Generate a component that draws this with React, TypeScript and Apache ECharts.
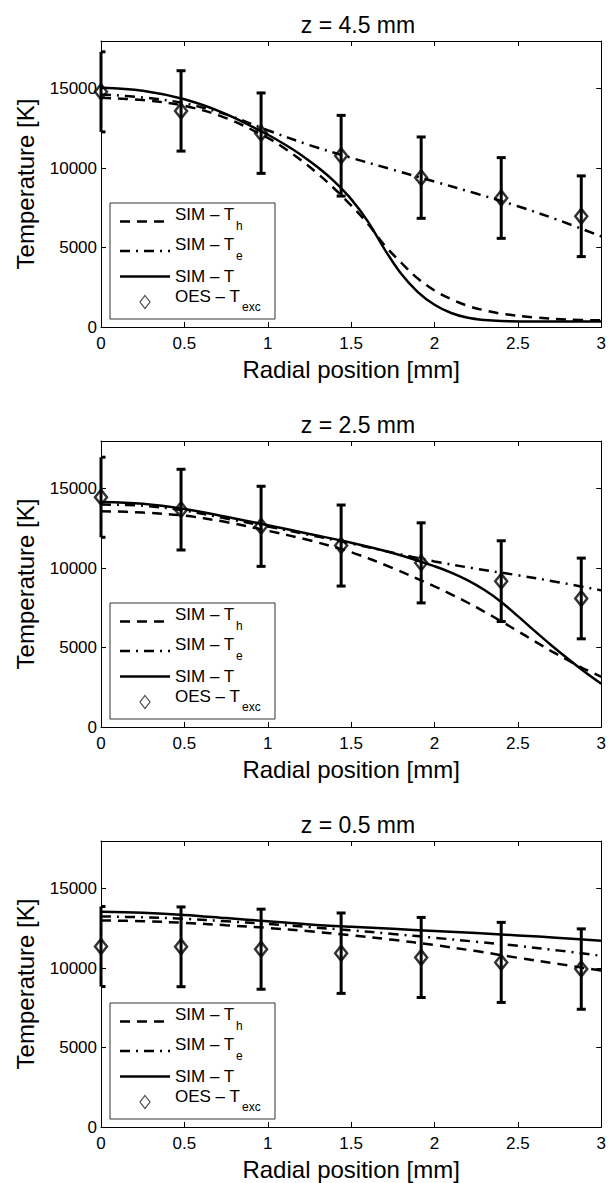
import React, { useEffect, useRef } from "react";
import * as echarts from "echarts";

const FONT = '"Liberation Sans", Arial, Helvetica, sans-serif';

// Titles & axis texts
const titles = ["z = 4.5 mm", "z = 2.5 mm", "z = 0.5 mm"];
const xName = "Radial position [mm]";
const yName = "Temperature [K]";

// OES measurement positions (mm)
const oesR = [0, 0.48, 0.96, 1.44, 1.92, 2.4, 2.88];

// ---- z = 4.5 mm ----
const r1 = [0, 0.25, 0.5, 0.75, 1.0, 1.1, 1.2, 1.3, 1.4, 1.5, 1.6, 1.7, 1.8, 1.9, 2.0, 2.1, 2.2, 2.3, 2.4, 2.6, 2.8, 3.0];
const T1 = [15060, 14870, 14330, 13400, 12100, 11500, 10830, 10050, 9150, 8050, 6650, 4900, 3350, 2200, 1400, 880, 580, 440, 380, 350, 350, 350];
const Th1 = [14430, 14280, 13920, 13150, 11900, 11250, 10500, 9650, 8700, 7650, 6500, 5150, 4050, 3050, 2300, 1750, 1330, 1050, 840, 600, 470, 420];
const rTe1 = [0, 0.25, 0.5, 0.75, 1.0, 1.25, 1.5, 1.75, 2.0, 2.25, 2.5, 2.75, 3.0];
const Te1 = [14640, 14450, 14080, 13380, 12380, 11450, 10650, 9900, 9150, 8400, 7600, 6700, 5700];
const oes1 = [14800, 13600, 12200, 10780, 9400, 8120, 6970];
const err1 = [2520, 2530, 2530, 2540, 2560, 2540, 2540];

// ---- z = 2.5 mm ----
const r2 = [0, 0.25, 0.5, 0.75, 1.0, 1.25, 1.5, 1.75, 2.0, 2.1, 2.2, 2.3, 2.4, 2.5, 2.6, 2.7, 2.8, 2.9, 3.0];
const T2 = [14160, 14050, 13720, 13230, 12700, 12150, 11600, 10950, 10120, 9720, 9230, 8620, 7870, 6980, 6050, 5150, 4300, 3480, 2720];
const Th2 = [13580, 13500, 13300, 12900, 12350, 11750, 11000, 10000, 8850, 8350, 7820, 7250, 6650, 6030, 5400, 4780, 4200, 3650, 3160];
const rTe2 = [0, 0.25, 0.5, 0.75, 1.0, 1.25, 1.5, 1.75, 2.0, 2.25, 2.5, 2.75, 3.0];
const Te2 = [14000, 13930, 13620, 13120, 12620, 12090, 11550, 10970, 10420, 9960, 9550, 9100, 8600];
const oes2 = [14460, 13680, 12630, 11420, 10330, 9180, 8090];
const err2 = [2520, 2540, 2520, 2550, 2520, 2540, 2540];

// ---- z = 0.5 mm ----
const r3 = [0, 0.25, 0.5, 0.75, 1.0, 1.25, 1.5, 1.75, 2.0, 2.25, 2.5, 2.75, 3.0];
const T3 = [13540, 13480, 13350, 13150, 12950, 12750, 12600, 12470, 12340, 12210, 12060, 11900, 11720];
const Th3 = [13000, 12950, 12850, 12700, 12530, 12320, 12060, 11780, 11450, 11070, 10650, 10250, 9850];
const Te3 = [13250, 13200, 13100, 12950, 12780, 12580, 12380, 12150, 11910, 11660, 11400, 11100, 10770];
const oes3 = [11360, 11340, 11190, 10940, 10670, 10360, 9940];
const err3 = [2520, 2510, 2520, 2530, 2520, 2520, 2530];

const panels = [
  { title: titles[0], rT: r1, T: T1, rTh: r1, Th: Th1, rTe: rTe1, Te: Te1, oes: oes1, err: err1 },
  { title: titles[1], rT: r2, T: T2, rTh: r2, Th: Th2, rTe: rTe2, Te: Te2, oes: oes2, err: err2 },
  { title: titles[2], rT: r3, T: T3, rTh: r3, Th: Th3, rTe: r3, Te: Te3, oes: oes3, err: err3 },
];

const GRID_LEFT = 101;
const GRID_W = 504;
const GRID_H = 286;
const GRID_TOPS = [41, 441, 841];

const DASH = [10, 7];
const DASHDOT = [10, 6, 2, 6];

function legendGraphics(dy: number) {
  const els: any[] = [];
  els.push({
    type: "rect",
    shape: { x: 110, y: 203 + dy, width: 165, height: 116 },
    style: { fill: "#fff", stroke: "#333", lineWidth: 1 },
    z: 100,
  });
  const rows = [
    { ly: 221.5, ty: 214, sub: "h", sy: 226, dash: DASH },
    { ly: 251, ty: 244, sub: "e", sy: 256, dash: DASHDOT },
    { ly: 276.5, ty: 276, sub: "", sy: 0, dash: null },
  ];
  rows.forEach((r) => {
    els.push({
      type: "line",
      shape: { x1: 120, y1: r.ly + dy, x2: 170, y2: r.ly + dy },
      style: { stroke: "#000", lineWidth: 2.5, lineDash: r.dash || undefined },
      z: 101,
    });
    els.push({
      type: "text",
      x: 175,
      y: r.ty + dy,
      style: { text: "SIM – T", font: `17px ${FONT}`, fill: "#000", verticalAlign: "middle", align: "left" },
      z: 101,
    });
    if (r.sub) {
      els.push({
        type: "text",
        x: 236,
        y: r.sy + dy,
        style: { text: r.sub, font: `12px ${FONT}`, fill: "#000", verticalAlign: "middle", align: "left" },
        z: 101,
      });
    }
  });
  els.push({
    type: "polygon",
    shape: { points: [[145, 295.5 + dy], [150, 302 + dy], [145, 308.5 + dy], [140, 302 + dy]] },
    style: { fill: "none", stroke: "#444", lineWidth: 1.2 },
    z: 101,
  });
  els.push({
    type: "text",
    x: 175,
    y: 296 + dy,
    style: { text: "OES – T", font: `17px ${FONT}`, fill: "#000", verticalAlign: "middle", align: "left" },
    z: 101,
  });
  els.push({
    type: "text",
    x: 242,
    y: 306.5 + dy,
    style: { text: "exc", font: `12px ${FONT}`, fill: "#000", verticalAlign: "middle", align: "left" },
    z: 101,
  });
  return els;
}

function buildOption() {
  const grid: any[] = [];
  const xAxis: any[] = [];
  const yAxis: any[] = [];
  const series: any[] = [];
  const title: any[] = [];
  let graphic: any[] = [];

  panels.forEach((p, i) => {
    grid.push({ left: GRID_LEFT, top: GRID_TOPS[i], width: GRID_W, height: GRID_H, show: false });
    title.push({
      text: p.title,
      left: GRID_LEFT + GRID_W / 2,
      top: GRID_TOPS[i] - 33,
      textAlign: "center",
      textStyle: { fontSize: 23, fontWeight: "normal", color: "#000", fontFamily: FONT },
    });
    const axisLine = { show: true, onZero: false, lineStyle: { color: "#000", width: 1 } };
    const axisTick = { show: true, inside: true, length: 5, lineStyle: { color: "#000", width: 1 } };
    xAxis.push({
      gridIndex: i, type: "value", min: 0, max: 3, interval: 0.5, position: "bottom",
      axisLine, axisTick, splitLine: { show: false },
      axisLabel: { fontSize: 17, color: "#000", fontFamily: FONT, margin: 8, formatter: (v: number) => String(v) },
      name: xName, nameLocation: "middle", nameGap: 30,
      nameTextStyle: { fontSize: 24, color: "#000", fontFamily: FONT },
    });
    xAxis.push({
      gridIndex: i, type: "value", min: 0, max: 3, interval: 0.5, position: "top",
      axisLine, axisTick, splitLine: { show: false }, axisLabel: { show: false },
    });
    yAxis.push({
      gridIndex: i, type: "value", min: 0, max: 18000, interval: 5000, position: "left",
      axisLine, axisTick, splitLine: { show: false },
      axisLabel: {
        fontSize: 17, color: "#000", fontFamily: FONT, margin: 4, showMaxLabel: false,
        formatter: (v: number) => String(v),
      },
      name: yName, nameLocation: "middle", nameGap: 64,
      nameTextStyle: { fontSize: 24, color: "#000", fontFamily: FONT },
    });
    yAxis.push({
      gridIndex: i, type: "value", min: 0, max: 18000, interval: 5000, position: "right",
      axisLine, axisTick, splitLine: { show: false }, axisLabel: { show: false },
    });
    const xi = 2 * i;
    const yi = 2 * i;
    const lineBase = {
      type: "line", xAxisIndex: xi, yAxisIndex: yi, showSymbol: false, symbol: "none",
      smooth: 0.35, z: 2,
    };
    series.push({
      ...lineBase, name: "SIM - Th",
      data: p.rTh.map((x, j) => [x, p.Th[j]]),
      lineStyle: { color: "#000", width: 2.5, type: DASH },
    });
    series.push({
      ...lineBase, name: "SIM - Te",
      data: p.rTe.map((x, j) => [x, p.Te[j]]),
      lineStyle: { color: "#000", width: 2.5, type: DASHDOT },
    });
    series.push({
      ...lineBase, name: "SIM - T",
      data: p.rT.map((x, j) => [x, p.T[j]]),
      lineStyle: { color: "#000", width: 2.5, type: "solid" },
    });
    series.push({
      type: "custom", xAxisIndex: xi, yAxisIndex: yi, z: 3, clip: false,
      data: oesR.map((x, j) => [x, p.oes[j] - p.err[j], p.oes[j] + p.err[j]]),
      renderItem: (params: any, api: any) => {
        const x = api.value(0);
        const lo = api.coord([x, api.value(1)]);
        const hi = api.coord([x, api.value(2)]);
        const cs = params.coordSys;
        const half = 4.5;
        const l = Math.max(lo[0] - half, cs.x);
        const r = lo[0] + half;
        const st = { stroke: "#000", lineWidth: 3 };
        return {
          type: "group",
          children: [
            { type: "line", shape: { x1: lo[0], y1: lo[1], x2: hi[0], y2: hi[1] }, style: st },
            { type: "line", shape: { x1: l, y1: hi[1], x2: r, y2: hi[1] }, style: st },
            { type: "line", shape: { x1: l, y1: lo[1], x2: r, y2: lo[1] }, style: st },
          ],
        };
      },
    });
    series.push({
      type: "scatter", name: "OES - Texc", xAxisIndex: xi, yAxisIndex: yi, z: 4, clip: false,
      symbol: "diamond", symbolSize: [12, 15],
      itemStyle: { color: "rgba(0,0,0,0)", borderColor: "#000", borderWidth: 2.5 },
      data: oesR.map((x, j) => [x, p.oes[j]]),
    });
    graphic = graphic.concat(legendGraphics(i * 400));
  });

  return {
    animation: false,
    backgroundColor: "#fff",
    title, grid, xAxis, yAxis, series, graphic,
  };
}

export default function App() {
  const ref = useRef<HTMLDivElement>(null);
  useEffect(() => {
    if (!ref.current) return;
    const chart = echarts.init(ref.current, undefined, { renderer: "svg" });
    chart.setOption(buildOption() as any);
    return () => chart.dispose();
  }, []);
  return (
    <div
      ref={ref}
      style={{ position: "absolute", left: 0, top: 0, width: 609, height: 1183, background: "#fff" }}
    />
  );
}
